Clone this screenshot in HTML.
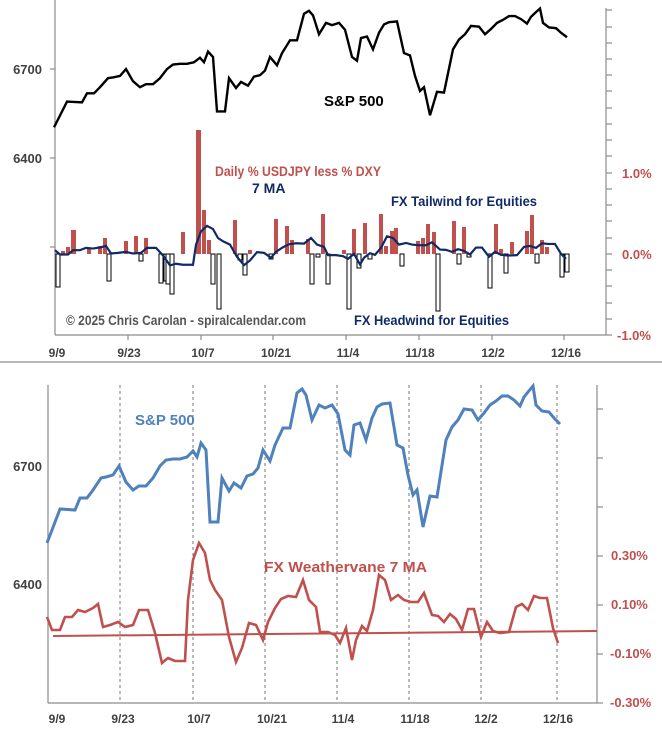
<!DOCTYPE html>
<html><head><meta charset="utf-8"><style>
html,body{margin:0;padding:0;background:#fff;}
svg{display:block;font-family:"Liberation Sans",sans-serif;font-weight:bold;}
</style></head><body>
<svg width="662" height="741" viewBox="0 0 662 741" xmlns="http://www.w3.org/2000/svg">
<defs>
<polyline id="spx" fill="none" vector-effect="non-scaling-stroke" points="47,543 52,530 60,509 75,510 80,498 87,498 93,490 101,478 106,477 113,475 119,466 126,482 133,490 139,486 146,486 153,478 160,466 166,460 173,459 180,459 187,457 193,451 197,457 201,443 206,450 210,522 218,522 222,478 229,491 234,483 241,488 247,476 253,474 258,468 263,450 270,461 275,445 283,428 290,428 297,393 302,389 306,395 312,420 319,405 325,408 332,405 338,414 345,450 350,455 354,425 360,423 366,440 372,418 377,407 382,404 390,403 397,445 403,448 408,475 413,495 417,490 423,527 430,496 437,497 446,440 452,427 458,420 464,409 472,410 478,420 484,413 490,405 496,401 502,396 508,396 514,400 520,406 524,397 528,392 533,386 536,405 542,411 549,412 554,418 560,424"/>
<polyline id="fx" fill="none" vector-effect="non-scaling-stroke" points="47,617 52,630 60,630 65,617 72,617 78,610 85,612 93,608 98,604 103,627 110,625 118,622 125,627 133,625 139,610 148,610 155,633 162,663 168,658 175,661 185,661 188,600 193,560 199,543 205,553 210,580 215,590 222,600 229,637 236,662 242,648 249,623 256,625 263,640 268,622 275,608 281,599 288,596 296,597 303,580 309,600 316,607 320,632 328,632 335,635 340,643 346,628 352,660 356,640 362,626 367,631 373,610 379,575 385,580 391,600 398,595 404,600 411,602 418,602 424,593 432,615 438,616 444,622 450,614 456,619 462,630 468,609 474,609 481,637 487,622 493,631 500,633 509,632 516,607 522,604 528,610 534,596 540,598 547,598 553,628 558,643"/>
</defs>

<g stroke="#8c8c8c" stroke-width="1.2" fill="none">
<line x1="55" y1="0" x2="55" y2="335"/>
<line x1="55" y1="335" x2="606" y2="335"/>
<line x1="606" y1="8" x2="606" y2="335"/>
<line x1="50" y1="69" x2="55" y2="69"/><line x1="50" y1="158" x2="55" y2="158"/><line x1="50" y1="247" x2="55" y2="247"/>
<line x1="606" y1="10" x2="612" y2="10"/><line x1="606" y1="27" x2="612" y2="27"/><line x1="606" y1="43" x2="612" y2="43"/><line x1="606" y1="59" x2="612" y2="59"/><line x1="606" y1="75" x2="612" y2="75"/><line x1="606" y1="91" x2="612" y2="91"/><line x1="606" y1="108" x2="612" y2="108"/><line x1="606" y1="124" x2="612" y2="124"/><line x1="606" y1="140" x2="612" y2="140"/><line x1="606" y1="156" x2="612" y2="156"/><line x1="606" y1="173" x2="612" y2="173"/><line x1="606" y1="189" x2="612" y2="189"/><line x1="606" y1="205" x2="612" y2="205"/><line x1="606" y1="221" x2="612" y2="221"/><line x1="606" y1="238" x2="612" y2="238"/><line x1="606" y1="254" x2="612" y2="254"/><line x1="606" y1="270" x2="612" y2="270"/><line x1="606" y1="286" x2="612" y2="286"/><line x1="606" y1="303" x2="612" y2="303"/><line x1="606" y1="319" x2="612" y2="319"/><line x1="606" y1="335" x2="612" y2="335"/>
<line x1="128" y1="335" x2="128" y2="340"/><line x1="201" y1="335" x2="201" y2="340"/><line x1="273" y1="335" x2="273" y2="340"/><line x1="346" y1="335" x2="346" y2="340"/><line x1="419" y1="335" x2="419" y2="340"/><line x1="492" y1="335" x2="492" y2="340"/><line x1="564" y1="335" x2="564" y2="340"/>
</g>
<g fill="#c0504d">
<rect x="61" y="251" width="4" height="3"/><rect x="66" y="247" width="4" height="7"/><rect x="71" y="230" width="5" height="24"/><rect x="87" y="249" width="4" height="5"/><rect x="98" y="246" width="4" height="8"/><rect x="103" y="238" width="4" height="16"/><rect x="124" y="241" width="4" height="13"/><rect x="134" y="236" width="4" height="18"/><rect x="144" y="238" width="4" height="16"/><rect x="181" y="232" width="4" height="22"/><rect x="196" y="130" width="5" height="124"/><rect x="202" y="210" width="4" height="44"/><rect x="207" y="240" width="4" height="14"/><rect x="233" y="220" width="4" height="34"/><rect x="248" y="250" width="4" height="4"/><rect x="274" y="219" width="4" height="35"/><rect x="285" y="226" width="4" height="28"/><rect x="290" y="240" width="4" height="14"/><rect x="306" y="239" width="4" height="15"/><rect x="321" y="214" width="4" height="40"/><rect x="342" y="250" width="4" height="4"/><rect x="352" y="229" width="4" height="25"/><rect x="363" y="223" width="4" height="31"/><rect x="379" y="214" width="4" height="40"/><rect x="384" y="246" width="4" height="8"/><rect x="390" y="231" width="4" height="23"/><rect x="394" y="228" width="4" height="26"/><rect x="416" y="241" width="4" height="13"/><rect x="421" y="238" width="4" height="16"/><rect x="426" y="224" width="4" height="30"/><rect x="432" y="232" width="4" height="22"/><rect x="452" y="221" width="4" height="33"/><rect x="462" y="227" width="4" height="27"/><rect x="494" y="224" width="4" height="30"/><rect x="499" y="249" width="4" height="5"/><rect x="510" y="242" width="4" height="12"/><rect x="525" y="231" width="4" height="23"/><rect x="530" y="215" width="4" height="39"/><rect x="540" y="240" width="4" height="14"/><rect x="545" y="247" width="4" height="7"/>
</g>
<g fill="#fff" stroke="#000" stroke-width="1">
<rect x="56" y="254" width="4" height="33"/><rect x="107" y="254" width="4" height="27"/><rect x="139" y="254" width="4" height="7"/><rect x="159" y="254" width="4" height="29"/><rect x="164" y="254" width="4" height="27"/><rect x="166" y="254" width="4" height="30"/><rect x="170" y="254" width="4" height="40"/><rect x="211" y="254" width="4" height="30"/><rect x="217" y="254" width="4" height="55"/><rect x="238" y="254" width="4" height="6"/><rect x="243" y="254" width="4" height="21"/><rect x="269" y="254" width="4" height="5"/><rect x="310" y="254" width="4" height="30"/><rect x="316" y="254" width="4" height="3"/><rect x="326" y="254" width="4" height="30"/><rect x="347" y="254" width="4" height="55"/><rect x="357" y="254" width="4" height="14"/><rect x="368" y="254" width="4" height="5"/><rect x="400" y="254" width="4" height="12"/><rect x="436" y="254" width="4" height="57"/><rect x="457" y="254" width="4" height="10"/><rect x="467" y="254" width="4" height="3"/><rect x="488" y="254" width="4" height="34"/><rect x="504" y="254" width="4" height="19"/><rect x="535" y="254" width="4" height="9"/><rect x="560" y="254" width="4" height="23"/><rect x="565" y="254" width="4" height="18"/>
</g>
<use href="#spx" transform="translate(7,-283.7) scale(1,0.757)" stroke="#000" stroke-width="2.4"/>
<use href="#fx" transform="translate(8,46.6) scale(1,0.33)" stroke="#0f2a66" stroke-width="2.2"/>
<g font-size="13" fill="#404040">
<text x="42" y="74" text-anchor="end">6700</text><text x="42" y="163" text-anchor="end">6400</text>
</g>
<g font-size="13" fill="#c0504d">
<text x="622" y="178">1.0%</text><text x="622" y="259">0.0%</text><text x="617" y="340">-1.0%</text>
</g>
<g font-size="12" fill="#404040" text-anchor="middle">
<text x="57" y="357">9/9</text><text x="129" y="357">9/23</text><text x="203" y="357">10/7</text><text x="276" y="357">10/21</text><text x="348" y="357">11/4</text><text x="420" y="357">11/18</text><text x="493" y="357">12/2</text><text x="566" y="357">12/16</text>
</g>
<text x="324" y="106" font-size="15" fill="#000">S&amp;P 500</text>
<text x="215" y="176" font-size="14" fill="#c0504d" textLength="166" lengthAdjust="spacingAndGlyphs">Daily % USDJPY less % DXY</text>
<text x="252" y="193" font-size="14" fill="#0f2a66">7 MA</text>
<text x="391" y="206" font-size="14" fill="#0f2a66" textLength="146" lengthAdjust="spacingAndGlyphs">FX Tailwind for Equities</text>
<text x="354" y="325" font-size="14" fill="#0f2a66" textLength="155" lengthAdjust="spacingAndGlyphs">FX Headwind for Equities</text>
<text x="66" y="325" font-size="14" fill="#555" textLength="240" lengthAdjust="spacingAndGlyphs">© 2025 Chris Carolan - spiralcalendar.com</text>

<line x1="0" y1="362" x2="662" y2="362" stroke="#8c8c8c" stroke-width="1.2"/>

<g stroke="#777" stroke-width="1" stroke-dasharray="3,3">
<line x1="120" y1="385" x2="120" y2="703"/><line x1="193" y1="385" x2="193" y2="703"/><line x1="265" y1="385" x2="265" y2="703"/><line x1="337" y1="385" x2="337" y2="703"/><line x1="409" y1="385" x2="409" y2="703"/><line x1="481" y1="385" x2="481" y2="703"/><line x1="557" y1="385" x2="557" y2="703"/>
</g>
<g stroke="#8c8c8c" stroke-width="1.2">
<line x1="48" y1="385" x2="48" y2="703"/><line x1="48" y1="703" x2="597" y2="703"/><line x1="597" y1="385" x2="597" y2="703"/>
<line x1="597" y1="409" x2="603" y2="409"/><line x1="597" y1="458" x2="603" y2="458"/><line x1="597" y1="507" x2="603" y2="507"/><line x1="597" y1="556" x2="603" y2="556"/><line x1="597" y1="605" x2="603" y2="605"/><line x1="597" y1="654" x2="603" y2="654"/><line x1="597" y1="703" x2="603" y2="703"/>
</g>
<line x1="53" y1="636" x2="597" y2="631" stroke="#c0504d" stroke-width="2"/>
<use href="#spx" stroke="#4f81bd" stroke-width="3"/>
<use href="#fx" stroke="#c0504d" stroke-width="2.6"/>
<g font-size="13" fill="#404040">
<text x="42" y="471" text-anchor="end">6700</text><text x="42" y="589" text-anchor="end">6400</text>
</g>
<g font-size="13" fill="#c0504d">
<text x="611" y="560">0.30%</text><text x="611" y="609">0.10%</text><text x="610" y="658">-0.10%</text><text x="610" y="707">-0.30%</text>
</g>
<g font-size="12" fill="#404040" text-anchor="middle">
<text x="57" y="723">9/9</text><text x="123" y="723">9/23</text><text x="199" y="723">10/7</text><text x="272" y="723">10/21</text><text x="343" y="723">11/4</text><text x="415" y="723">11/18</text><text x="486" y="723">12/2</text><text x="558" y="723">12/16</text>
</g>
<text x="135" y="425" font-size="15" fill="#4f81bd">S&amp;P 500</text>
<text x="264" y="572" font-size="15" fill="#c0504d" textLength="163" lengthAdjust="spacingAndGlyphs">FX Weathervane 7 MA</text>
</svg>
</body></html>
